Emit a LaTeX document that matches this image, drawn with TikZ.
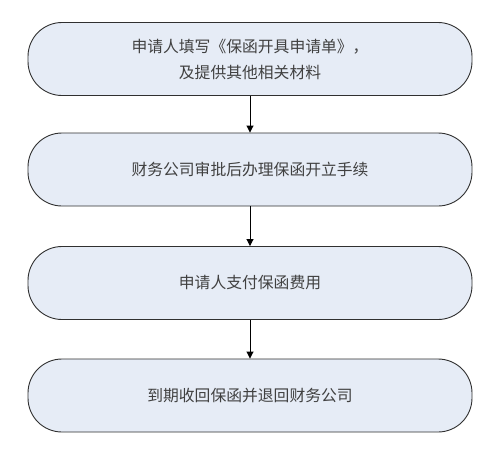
\documentclass[tikz,border=0pt]{standalone}
\usepackage{fontspec}
\setmainfont{Noto Sans CJK SC}
\usetikzlibrary{arrows.meta}
\definecolor{boxfill}{HTML}{E6ECF6}
\definecolor{boxline}{HTML}{303030}
\definecolor{txt}{HTML}{404040}
\begin{document}
\begin{tikzpicture}[x=1pt,y=-1pt,
  stepbox/.style={draw=boxline, fill=boxfill, line width=0.9pt, rounded corners=34pt,
    minimum width=444pt, minimum height=73pt, text=txt,
    font=\fontsize{15.8}{26}\selectfont, align=center, inner sep=0pt},
  link/.style={draw=black, line width=0.9pt, -{Triangle[width=7pt,length=7pt]}}]
\useasboundingbox[fill=white] (0,0) rectangle (500,455);
\node[stepbox] (a) at (250,59) {申请人填写《保函开具申请单》，\\及提供其他相关材料};
\node[stepbox] (b) at (250,169.5) {财务公司审批后办理保函开立手续};
\node[stepbox] (c) at (250,283) {申请人支付保函费用};
\node[stepbox] (d) at (250,395.5) {到期收回保函并退回财务公司};
\draw[link] (a) -- (b);
\draw[link] (b) -- (c);
\draw[link] (c) -- (d);
\end{tikzpicture}
\end{document}
